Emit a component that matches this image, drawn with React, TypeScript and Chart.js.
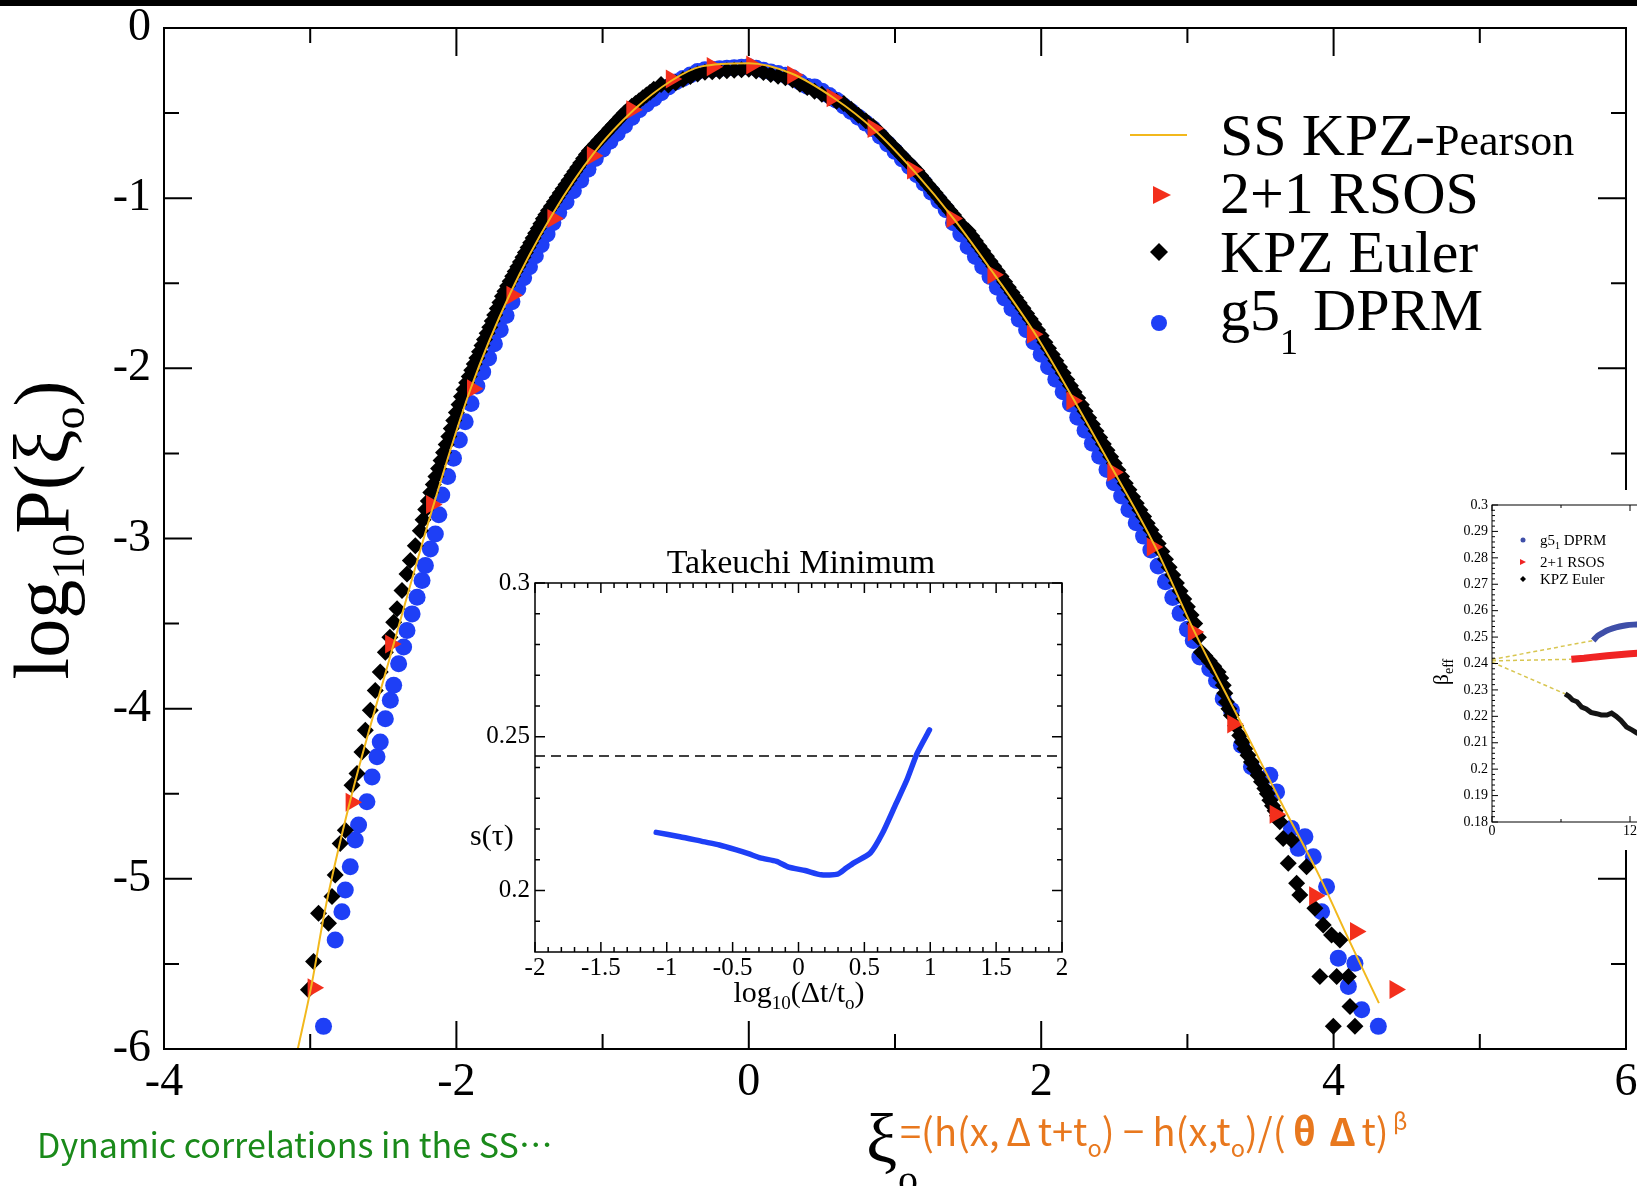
import React, { useEffect, useRef } from 'react';
import { Chart, registerables } from 'chart.js';

Chart.register(...registerables);

const SERIF = '"Liberation Serif", "Times New Roman", serif';
const CJK = '"Noto Sans CJK JP", "Noto Sans", sans-serif';

// ---------------- main chart data ----------------
const pearsonX = [-3.09, -2.99, -2.9, -2.726, -2.452, -2.144, -1.904, -1.63, -1.345, -1.06, -0.786, -0.53, -0.33, 0.0, 0.288, 0.584, 0.858, 1.132, 1.406, 1.68, 1.954, 2.228, 2.502, 2.776, 3.039, 3.37, 3.64, 3.9, 4.1, 4.31];
const pearsonY = [-6.02, -5.62, -5.19, -4.54, -3.69, -2.768, -2.123, -1.556, -1.097, -0.735, -0.481, -0.31, -0.227, -0.207, -0.266, -0.413, -0.598, -0.843, -1.126, -1.449, -1.791, -2.192, -2.612, -3.042, -3.531, -4.09, -4.55, -4.98, -5.35, -5.73];

const rsosX = [-2.98, -2.72, -2.45, -2.17, -1.89, -1.62, -1.34, -1.07, -0.8, -0.53, -0.25, 0.02, 0.3, 0.57, 0.85, 1.12, 1.39, 1.67, 1.94, 2.21, 2.49, 2.76, 3.04, 3.31, 3.6, 3.87, 4.15, 4.42];
const rsosY = [-5.64, -4.55, -3.62, -2.8, -2.12, -1.57, -1.12, -0.75, -0.48, -0.3, -0.227, -0.217, -0.276, -0.41, -0.59, -0.835, -1.12, -1.45, -1.8, -2.19, -2.61, -3.05, -3.55, -4.09, -4.62, -5.1, -5.31, -5.65];

const eulerPoints: [number, number][] = [
  [-3.012, -5.652], [-2.977, -5.486], [-2.943, -5.202], [-2.875, -5.261], [-2.851, -5.104], [-2.829, -4.978],
  [-2.795, -4.792], [-2.76, -4.714], [-2.714, -4.45], [-2.68, -4.381], [-2.646, -4.254], [-2.623, -4.127],
  [-2.589, -4.01], [-2.555, -3.893], [-2.521, -3.785], [-2.486, -3.668], [-2.455, -3.58], [-2.429, -3.492],
  [-2.406, -3.413], [-2.372, -3.306], [-2.338, -3.208], [-2.315, -3.13], [-2.281, -3.042], [-2.247, -2.954],
  [-2.228, -2.89], [-2.21, -2.83], [-2.192, -2.78], [-2.175, -2.73], [-2.158, -2.683], [-2.14, -2.636],
  [-2.122, -2.589], [-2.105, -2.542], [-2.088, -2.495], [-2.07, -2.448], [-2.052, -2.401], [-2.035, -2.354],
  [-2.018, -2.307], [-2.0, -2.26], [-1.982, -2.213], [-1.965, -2.166], [-1.948, -2.125], [-1.93, -2.084],
  [-1.912, -2.048], [-1.895, -2.011], [-1.878, -1.975], [-1.86, -1.939], [-1.842, -1.903], [-1.825, -1.866],
  [-1.808, -1.83], [-1.79, -1.794], [-1.772, -1.758], [-1.755, -1.722], [-1.738, -1.686], [-1.72, -1.649],
  [-1.702, -1.613], [-1.685, -1.577], [-1.668, -1.547], [-1.65, -1.516], [-1.632, -1.488], [-1.615, -1.459],
  [-1.598, -1.431], [-1.58, -1.403], [-1.562, -1.375], [-1.545, -1.347], [-1.528, -1.319], [-1.51, -1.29],
  [-1.492, -1.262], [-1.475, -1.234], [-1.458, -1.206], [-1.44, -1.178], [-1.422, -1.15], [-1.405, -1.121],
  [-1.388, -1.097], [-1.37, -1.072], [-1.35, -1.047], [-1.33, -1.021], [-1.31, -0.996], [-1.29, -0.97],
  [-1.27, -0.945], [-1.25, -0.919], [-1.23, -0.894], [-1.21, -0.868], [-1.19, -0.843], [-1.17, -0.818],
  [-1.15, -0.793], [-1.13, -0.767], [-1.11, -0.744], [-1.09, -0.721], [-1.07, -0.703], [-1.05, -0.684],
  [-1.025, -0.661], [-1.0, -0.638], [-0.975, -0.615], [-0.95, -0.591], [-0.925, -0.568], [-0.9, -0.545],
  [-0.875, -0.522], [-0.85, -0.499], [-0.825, -0.48], [-0.8, -0.46], [-0.775, -0.444], [-0.75, -0.427],
  [-0.725, -0.41], [-0.7, -0.394], [-0.675, -0.377], [-0.65, -0.36], [-0.6, -0.332],
  [-0.55, -0.335], [-0.5, -0.322], [-0.45, -0.302], [-0.4, -0.285], [-0.35, -0.27], [-0.3, -0.26],
  [-0.25, -0.257], [-0.2, -0.254], [-0.15, -0.251], [-0.1, -0.248], [-0.05, -0.245], [0.0, -0.243],
  [0.05, -0.252], [0.1, -0.262], [0.15, -0.273], [0.2, -0.283], [0.25, -0.293], [0.3, -0.306],
  [0.35, -0.33], [0.4, -0.35], [0.45, -0.372], [0.5, -0.39], [0.55, -0.41], [0.6, -0.43],
  [0.65, -0.444], [0.7, -0.478], [0.75, -0.512], [0.8, -0.545], [0.85, -0.579], [0.9, -0.618],
  [0.95, -0.662], [1.0, -0.707], [1.025, -0.73], [1.05, -0.752], [1.075, -0.775], [1.1, -0.797],
  [1.125, -0.819], [1.15, -0.841], [1.175, -0.867], [1.2, -0.893], [1.225, -0.919], [1.25, -0.944],
  [1.275, -0.97], [1.3, -0.996], [1.325, -1.022], [1.35, -1.048], [1.375, -1.074], [1.4, -1.099],
  [1.425, -1.127], [1.45, -1.154], [1.475, -1.175], [1.5, -1.193], [1.525, -1.223], [1.55, -1.252],
  [1.575, -1.282], [1.6, -1.311], [1.625, -1.341], [1.65, -1.37], [1.675, -1.4], [1.7, -1.429],
  [1.725, -1.46], [1.75, -1.491], [1.775, -1.523], [1.8, -1.554], [1.825, -1.585], [1.85, -1.616],
  [1.875, -1.647], [1.9, -1.678], [1.925, -1.71], [1.95, -1.741], [1.975, -1.775], [2.0, -1.809],
  [2.025, -1.846], [2.05, -1.882], [2.075, -1.919], [2.1, -1.955], [2.125, -1.992], [2.15, -2.028],
  [2.175, -2.065], [2.2, -2.102], [2.225, -2.139], [2.25, -2.175], [2.275, -2.214], [2.3, -2.252],
  [2.325, -2.291], [2.35, -2.329], [2.375, -2.368], [2.4, -2.406], [2.425, -2.444], [2.45, -2.482],
  [2.475, -2.52], [2.5, -2.558], [2.525, -2.597], [2.55, -2.636], [2.575, -2.675], [2.6, -2.714],
  [2.625, -2.754], [2.65, -2.793], [2.675, -2.832], [2.7, -2.871], [2.725, -2.911], [2.75, -2.95],
  [2.775, -2.99], [2.8, -3.029], [2.825, -3.076], [2.85, -3.122], [2.875, -3.169], [2.9, -3.215],
  [2.925, -3.262], [2.95, -3.308], [2.975, -3.355], [3.0, -3.401], [3.025, -3.45], [3.05, -3.5],
  [3.075, -3.58], [3.096, -3.668], [3.12, -3.69], [3.15, -3.72], [3.18, -3.75], [3.21, -3.785],
  [3.228, -3.82], [3.245, -3.863], [3.256, -3.91], [3.267, -3.961], [3.284, -4.0], [3.301, -4.039],
  [3.33, -4.1], [3.358, -4.157], [3.375, -4.196], [3.393, -4.235], [3.415, -4.274], [3.438, -4.313],
  [3.46, -4.352], [3.484, -4.391], [3.507, -4.43], [3.53, -4.469], [3.547, -4.5], [3.564, -4.538],
  [3.582, -4.57], [3.6, -4.6], [3.616, -4.63], [3.632, -4.665], [3.655, -4.763], [3.69, -4.909],
  [3.712, -4.772], [3.747, -5.026], [3.769, -5.095], [3.815, -4.929], [3.872, -5.173], [3.906, -5.574],
  [3.929, -5.271], [3.986, -5.33], [3.998, -5.867], [4.021, -5.574], [4.043, -5.359], [4.101, -5.574],
  [4.112, -5.75], [4.146, -5.867],
];

const dprmPoints: [number, number][] = [
  [-2.909, -5.867], [-2.829, -5.359], [-2.783, -5.193], [-2.76, -5.066], [-2.726, -4.929], [-2.692, -4.772],
  [-2.669, -4.684], [-2.612, -4.547], [-2.577, -4.401], [-2.543, -4.283], [-2.521, -4.196], [-2.486, -4.059],
  [-2.452, -3.951], [-2.429, -3.863], [-2.395, -3.736], [-2.361, -3.638], [-2.338, -3.541], [-2.303, -3.443],
  [-2.269, -3.345], [-2.235, -3.247], [-2.212, -3.159], [-2.178, -3.062], [-2.144, -2.974], [-2.12, -2.86],
  [-2.1, -2.744], [-2.06, -2.636], [-2.02, -2.529], [-1.98, -2.421], [-1.94, -2.314], [-1.9, -2.206],
  [-1.86, -2.104], [-1.82, -2.022], [-1.78, -1.939], [-1.74, -1.856], [-1.7, -1.773], [-1.66, -1.69],
  [-1.62, -1.608], [-1.58, -1.532], [-1.54, -1.467], [-1.5, -1.403], [-1.46, -1.338], [-1.42, -1.274],
  [-1.38, -1.21], [-1.34, -1.145], [-1.3, -1.084], [-1.25, -1.021], [-1.2, -0.957], [-1.15, -0.894],
  [-1.1, -0.83], [-1.05, -0.767], [-1.0, -0.712], [-0.95, -0.665], [-0.9, -0.619], [-0.85, -0.573],
  [-0.8, -0.526], [-0.75, -0.481], [-0.7, -0.447], [-0.65, -0.414], [-0.6, -0.38], [-0.55, -0.347],
  [-0.5, -0.318], [-0.45, -0.297], [-0.4, -0.276], [-0.35, -0.255], [-0.3, -0.245], [-0.25, -0.242],
  [-0.2, -0.239], [-0.15, -0.236], [-0.1, -0.233], [-0.05, -0.23], [0.0, -0.227], [0.05, -0.237],
  [0.1, -0.248], [0.15, -0.258], [0.2, -0.268], [0.25, -0.278], [0.3, -0.292], [0.35, -0.317],
  [0.4, -0.342], [0.45, -0.346], [0.5, -0.371], [0.55, -0.396], [0.6, -0.424], [0.65, -0.458],
  [0.7, -0.491], [0.75, -0.525], [0.8, -0.559], [0.85, -0.592], [0.9, -0.636], [0.95, -0.681],
  [1.0, -0.725], [1.05, -0.77], [1.1, -0.814], [1.15, -0.862], [1.2, -0.913], [1.25, -0.965],
  [1.3, -1.017], [1.35, -1.068], [1.4, -1.145], [1.45, -1.21], [1.5, -1.284], [1.55, -1.343],
  [1.6, -1.402], [1.65, -1.461], [1.7, -1.524], [1.75, -1.586], [1.8, -1.649], [1.85, -1.711],
  [1.9, -1.773], [1.95, -1.844], [2.0, -1.917], [2.05, -1.99], [2.1, -2.064], [2.15, -2.137],
  [2.2, -2.21], [2.25, -2.287], [2.3, -2.364], [2.35, -2.44], [2.4, -2.517], [2.45, -2.594],
  [2.5, -2.672], [2.55, -2.75], [2.6, -2.829], [2.65, -2.907], [2.7, -2.986], [2.75, -3.068],
  [2.8, -3.161], [2.85, -3.254], [2.9, -3.347], [2.95, -3.44], [3.0, -3.533], [3.04, -3.6],
  [3.085, -3.697], [3.153, -3.765], [3.199, -3.834], [3.245, -3.941], [3.301, -4.01], [3.37, -4.215],
  [3.438, -4.342], [3.564, -4.391], [3.61, -4.489], [3.712, -4.704], [3.758, -4.821], [3.804, -4.753],
  [3.861, -4.87], [3.918, -5.193], [3.952, -5.046], [4.032, -5.466], [4.101, -5.632], [4.146, -5.496],
  [4.192, -5.77], [4.306, -5.867],
];

const mainXTicks = [-4, -2, 0, 2, 4, 6];
const mainXLabels = ['-4', '-2', '0', '2', '4', '6'];
const mainXMinor = [-3, -1, 1, 3, 5];
const mainYTicks = [-6, -5, -4, -3, -2, -1, 0];
const mainYLabels = ['-6', '-5', '-4', '-3', '-2', '-1', '0'];
const mainYMinor = [-5.5, -4.5, -3.5, -2.5, -1.5, -0.5];

// ---------------- inset 1 (Takeuchi Minimum) ----------------
const tauLog = [-1.08, -0.9, -0.725, -0.6, -0.477, -0.38, -0.29, -0.167, -0.074, 0.05, 0.173, 0.297, 0.36, 0.42, 0.545, 0.638, 0.73, 0.823, 0.9, 0.994];
const tauS = [0.2189, 0.2175, 0.2159, 0.2148, 0.2133, 0.212, 0.2106, 0.2095, 0.2076, 0.2065, 0.2051, 0.2053, 0.2072, 0.209, 0.2122, 0.2187, 0.2273, 0.236, 0.2446, 0.2522];
const refLogX = [-2, 2];
const refS = [0.2437, 0.2437];
const in1XTicks = [-2, -1.5, -1, -0.5, 0, 0.5, 1, 1.5, 2];
const in1XLabels = ['-2', '-1.5', '-1', '-0.5', '0', '0.5', '1', '1.5', '2'];
const in1XMinor = [-1.9, -1.8, -1.7, -1.6, -1.4, -1.3, -1.2, -1.1, -0.9, -0.8, -0.7, -0.6, -0.4, -0.3, -0.2, -0.1, 0.1, 0.2, 0.3, 0.4, 0.6, 0.7, 0.8, 0.9, 1.1, 1.2, 1.3, 1.4, 1.6, 1.7, 1.8, 1.9];
const in1YTicks = [0.2, 0.25, 0.3];
const in1YLabels = ['0.2', '0.25', '0.3'];
const in1YMinor = [0.19, 0.21, 0.22, 0.23, 0.24, 0.26, 0.27, 0.28, 0.29];

// ---------------- inset 2 (beta_eff, cropped) ----------------
const dprmT = [8.8, 9.2, 9.6, 10.0, 10.5, 11.1, 11.7, 12.6, 13.5];
const dprmBeta = [0.2487, 0.2505, 0.2515, 0.2525, 0.2533, 0.254, 0.2545, 0.2548, 0.2551];
const rsosT = [6.9, 8, 9, 10, 11, 12, 13];
const rsosBeta = [0.2416, 0.242, 0.2425, 0.2429, 0.2433, 0.2437, 0.244];
const eulerT = [6.36, 6.7, 7.0, 7.4, 7.8, 8.2, 8.6, 9.1, 9.5, 10.0, 10.4, 10.8, 11.2, 11.7, 12.2, 12.6, 13.2];
const eulerBeta = [0.2285, 0.2275, 0.2262, 0.2255, 0.2235, 0.2228, 0.2215, 0.221, 0.2205, 0.2205, 0.2212, 0.22, 0.2185, 0.216, 0.2148, 0.2137, 0.2125];
const extrapDprmT = [0, 8.8];
const extrapDprmB = [0.2415, 0.2487];
const extrapRsosT = [0, 6.9];
const extrapRsosB = [0.241, 0.2416];
const extrapEulerT = [0, 6.36];
const extrapEulerB = [0.2405, 0.2285];
const in2YTicks = [0.18, 0.19, 0.2, 0.21, 0.22, 0.23, 0.24, 0.25, 0.26, 0.27, 0.28, 0.29, 0.3];
const in2YLabels = ['0.18', '0.19', '0.2', '0.21', '0.22', '0.23', '0.24', '0.25', '0.26', '0.27', '0.28', '0.29', '0.3'];
const in2XTicks = [0, 12, 24];
const in2XLabels = ['0', '12', '24'];
const in2XMinor = [6, 18, 30];

const YELLOW = '#f2b81c';
const RED = '#f32f1c';
const BLUE = '#1e3ff6';

type Part = { t: string; size: number; dy?: number; bold?: boolean; color?: string };

function drawRich(ctx: CanvasRenderingContext2D, x: number, y: number, parts: Part[], align: 'left' | 'center' | 'right', family = SERIF) {
  let w = 0;
  for (const p of parts) {
    ctx.font = `${p.bold ? 'bold ' : ''}${p.size}px ${family}`;
    w += ctx.measureText(p.t).width;
  }
  let cx = align === 'left' ? x : align === 'center' ? x - w / 2 : x - w;
  ctx.textAlign = 'left';
  ctx.textBaseline = 'alphabetic';
  for (const p of parts) {
    ctx.font = `${p.bold ? 'bold ' : ''}${p.size}px ${family}`;
    ctx.fillStyle = p.color || '#000';
    ctx.fillText(p.t, cx, y + (p.dy || 0));
    cx += ctx.measureText(p.t).width;
  }
}

function frameTicks(id: string, cfg: { xMajor: number[]; xMinor: number[]; yMajor: number[]; yMinor: number[]; major: number; minor: number; lw: number }) {
  return {
    id,
    afterDraw(chart: any) {
      const { ctx, chartArea: a } = chart;
      const xs = chart.scales.x;
      const ys = chart.scales.y;
      ctx.save();
      ctx.strokeStyle = '#000';
      ctx.lineWidth = cfg.lw;
      ctx.beginPath();
      const vx = (v: number, len: number) => {
        const p = xs.getPixelForValue(v);
        if (p < a.left - 0.5 || p > a.right + 0.5) return;
        ctx.moveTo(p, a.bottom); ctx.lineTo(p, a.bottom - len);
        ctx.moveTo(p, a.top); ctx.lineTo(p, a.top + len);
      };
      const hy = (v: number, len: number) => {
        const p = ys.getPixelForValue(v);
        if (p < a.top - 0.5 || p > a.bottom + 0.5) return;
        ctx.moveTo(a.left, p); ctx.lineTo(a.left + len, p);
        ctx.moveTo(a.right, p); ctx.lineTo(a.right - len, p);
      };
      cfg.xMajor.forEach((v) => vx(v, cfg.major));
      cfg.xMinor.forEach((v) => vx(v, cfg.minor));
      cfg.yMajor.forEach((v) => hy(v, cfg.major));
      cfg.yMinor.forEach((v) => hy(v, cfg.minor));
      ctx.stroke();
      ctx.strokeRect(a.left, a.top, a.right - a.left, a.bottom - a.top);
      ctx.restore();
    },
  };
}

function fixedAxis(kind: 'x' | 'y', size: number) {
  return (s: any) => {
    if (kind === 'x') s.height = size; else s.width = size;
    s.paddingLeft = 0; s.paddingRight = 0; s.paddingTop = 0; s.paddingBottom = 0;
  };
}

const pts = (xs: number[], ys: number[]) => xs.map((x, i) => ({ x, y: ys[i] }));
const pairPts = (p: [number, number][]) => p.map(([x, y]) => ({ x, y }));

function makeMain(canvas: HTMLCanvasElement) {
  const decor = {
    id: 'mainDecor',
    afterDraw(chart: any) {
      const ctx: CanvasRenderingContext2D = chart.ctx;
      ctx.save();
      ctx.translate(68, 530);
      ctx.rotate(-Math.PI / 2);
      drawRich(ctx, 0, 0, [
        { t: 'log', size: 78 }, { t: '10', size: 46, dy: 16 }, { t: 'P(ξ', size: 78 }, { t: 'o', size: 46, dy: 16 }, { t: ')', size: 78 },
      ], 'center');
      ctx.restore();

      ctx.save();
      ctx.strokeStyle = YELLOW; ctx.lineWidth = 2;
      ctx.beginPath(); ctx.moveTo(1130, 135); ctx.lineTo(1187, 135); ctx.stroke();
      drawRich(ctx, 1220, 155, [{ t: 'SS KPZ-', size: 60 }, { t: 'Pearson', size: 44 }], 'left');

      ctx.fillStyle = RED;
      ctx.beginPath(); ctx.moveTo(1171, 195); ctx.lineTo(1153, 186); ctx.lineTo(1153, 204); ctx.closePath(); ctx.fill();
      drawRich(ctx, 1220, 213, [{ t: '2+1 RSOS', size: 60 }], 'left');

      ctx.fillStyle = '#000';
      ctx.beginPath(); ctx.moveTo(1159, 243); ctx.lineTo(1168, 252); ctx.lineTo(1159, 261); ctx.lineTo(1150, 252); ctx.closePath(); ctx.fill();
      drawRich(ctx, 1220, 272, [{ t: 'KPZ Euler', size: 60 }], 'left');

      ctx.fillStyle = BLUE;
      ctx.beginPath(); ctx.arc(1159, 323, 8, 0, Math.PI * 2); ctx.fill();
      drawRich(ctx, 1220, 330, [{ t: 'g5', size: 60 }, { t: '1', size: 36, dy: 24 }, { t: ' DPRM', size: 60 }], 'left');
      ctx.restore();
    },
  };
  return new Chart(canvas, {
    type: 'scatter',
    data: {
      datasets: [
        { label: 'SS KPZ-Pearson', data: pts(pearsonX, pearsonY), showLine: true, borderColor: YELLOW, borderWidth: 2, pointRadius: 0, cubicInterpolationMode: 'monotone', fill: false } as any,
        { label: '2+1 RSOS', data: pts(rsosX, rsosY), pointStyle: 'triangle', pointRotation: 90, pointRadius: 11, pointBackgroundColor: RED, pointBorderWidth: 0 } as any,
        { label: 'KPZ Euler', data: pairPts(eulerPoints), pointStyle: 'rectRot', pointRadius: 8.5, pointBackgroundColor: '#000', pointBorderWidth: 0 } as any,
        { label: 'g5_1 DPRM', data: pairPts(dprmPoints), pointStyle: 'circle', pointRadius: 8.5, pointBackgroundColor: BLUE, pointBorderWidth: 0 } as any,
      ],
    },
    options: {
      animation: false,
      responsive: false,
      devicePixelRatio: 1,
      events: [],
      layout: { padding: { top: 28, right: 9, left: 0, bottom: 0 } },
      plugins: { legend: { display: false }, tooltip: { enabled: false }, title: { display: false } },
      scales: {
        x: {
          type: 'linear', min: -4, max: 6,
          afterBuildTicks: (s: any) => { s.ticks = mainXTicks.map((v) => ({ value: v })); },
          afterFit: fixedAxis('x', 137),
          ticks: { autoSkip: false, maxRotation: 0, font: { family: SERIF, size: 46 }, color: '#000', padding: 6, callback: (_v: any, i: number) => mainXLabels[i] },
          grid: { display: false, drawTicks: false },
          border: { display: false },
        },
        y: {
          type: 'linear', min: -6, max: 0,
          afterBuildTicks: (s: any) => { s.ticks = mainYTicks.map((v) => ({ value: v })); },
          afterFit: fixedAxis('y', 164),
          ticks: { autoSkip: false, font: { family: SERIF, size: 46 }, color: '#000', padding: 13, callback: (_v: any, i: number) => mainYLabels[i] },
          grid: { display: false, drawTicks: false },
          border: { display: false },
        },
      },
    } as any,
    plugins: [frameTicks('mainTicks', { xMajor: mainXTicks, xMinor: mainXMinor, yMajor: mainYTicks, yMinor: mainYMinor, major: 28, minor: 15, lw: 2 }), decor],
  });
}

function makeInset1(canvas: HTMLCanvasElement) {
  const decor = {
    id: 'in1Decor',
    afterDraw(chart: any) {
      const ctx: CanvasRenderingContext2D = chart.ctx;
      ctx.save();
      drawRich(ctx, 361, 48, [{ t: 'Takeuchi Minimum', size: 34 }], 'center');
      drawRich(ctx, 359, 477, [{ t: 'log', size: 30 }, { t: '10', size: 19, dy: 7 }, { t: '(Δt/t', size: 30 }, { t: 'o', size: 19, dy: 7 }, { t: ')', size: 30 }], 'center');
      drawRich(ctx, 30, 320, [{ t: 's(τ)', size: 30 }], 'left');
      ctx.restore();
    },
  };
  return new Chart(canvas, {
    type: 'scatter',
    data: {
      datasets: [
        { label: 's(tau)', data: pts(tauLog, tauS), showLine: true, borderColor: BLUE, borderWidth: 5.5, pointRadius: 0, tension: 0.2, borderCapStyle: 'round', borderJoinStyle: 'round' } as any,
        { label: 'reference', data: pts(refLogX, refS), showLine: true, borderColor: '#000', borderWidth: 1.5, borderDash: [10, 6], pointRadius: 0 } as any,
      ],
    },
    options: {
      animation: false,
      responsive: false,
      devicePixelRatio: 1,
      events: [],
      layout: { padding: { top: 58, right: 18, left: 0, bottom: 0 } },
      plugins: { legend: { display: false }, tooltip: { enabled: false } },
      scales: {
        x: {
          type: 'linear', min: -2, max: 2,
          afterBuildTicks: (s: any) => { s.ticks = in1XTicks.map((v) => ({ value: v })); },
          afterFit: fixedAxis('x', 63),
          ticks: { autoSkip: false, maxRotation: 0, font: { family: SERIF, size: 25 }, color: '#000', padding: 1, callback: (_v: any, i: number) => in1XLabels[i] },
          grid: { display: false, drawTicks: false },
          border: { display: false },
        },
        y: {
          type: 'linear', min: 0.18, max: 0.3,
          afterBuildTicks: (s: any) => { s.ticks = in1YTicks.map((v) => ({ value: v })); },
          afterFit: fixedAxis('y', 95),
          ticks: { autoSkip: false, font: { family: SERIF, size: 25 }, color: '#000', padding: 5, callback: (_v: any, i: number) => in1YLabels[i] },
          grid: { display: false, drawTicks: false },
          border: { display: false },
        },
      },
    } as any,
    plugins: [frameTicks('in1Ticks', { xMajor: in1XTicks, xMinor: in1XMinor, yMajor: in1YTicks, yMinor: in1YMinor, major: 10, minor: 5, lw: 1.5 }), decor],
  });
}

function makeInset2(canvas: HTMLCanvasElement) {
  const minorY: number[] = [];
  for (const t of in2YTicks) for (const d of [0.002, 0.004, 0.006, 0.008]) if (t + d < 0.3) minorY.push(+(t + d).toFixed(3));
  const decor = {
    id: 'in2Decor',
    afterDraw(chart: any) {
      const ctx: CanvasRenderingContext2D = chart.ctx;
      ctx.save();
      ctx.fillStyle = '#3f4fa8';
      ctx.beginPath(); ctx.arc(103, 50, 2.5, 0, Math.PI * 2); ctx.fill();
      drawRich(ctx, 120, 55, [{ t: 'g5', size: 15 }, { t: '1', size: 10, dy: 4 }, { t: ' DPRM', size: 15 }], 'left');
      ctx.fillStyle = '#f02424';
      ctx.beginPath(); ctx.moveTo(106, 72); ctx.lineTo(100, 69); ctx.lineTo(100, 75); ctx.closePath(); ctx.fill();
      drawRich(ctx, 120, 77, [{ t: '2+1 RSOS', size: 15 }], 'left');
      ctx.fillStyle = '#000';
      ctx.beginPath(); ctx.moveTo(103, 86); ctx.lineTo(106, 89); ctx.lineTo(103, 92); ctx.lineTo(100, 89); ctx.closePath(); ctx.fill();
      drawRich(ctx, 120, 94, [{ t: 'KPZ Euler', size: 15 }], 'left');
      ctx.translate(28, 182);
      ctx.rotate(-Math.PI / 2);
      drawRich(ctx, 0, 0, [{ t: 'β', size: 22 }, { t: 'eff', size: 14, dy: 5 }], 'center');
      ctx.restore();
    },
  };
  const dashed = { showLine: true, borderColor: '#d8c650', borderWidth: 1.5, borderDash: [4, 3], pointRadius: 0 };
  return new Chart(canvas, {
    type: 'scatter',
    data: {
      datasets: [
        { label: 'g5_1 DPRM', data: pts(dprmT, dprmBeta), showLine: true, borderColor: '#3f4fa8', borderWidth: 6, pointRadius: 0, tension: 0.3 } as any,
        { label: '2+1 RSOS', data: pts(rsosT, rsosBeta), showLine: true, borderColor: '#f02424', borderWidth: 7, pointRadius: 0 } as any,
        { label: 'KPZ Euler', data: pts(eulerT, eulerBeta), showLine: true, borderColor: '#141414', borderWidth: 5, pointRadius: 0 } as any,
        { label: 'fit DPRM', data: pts(extrapDprmT, extrapDprmB), ...dashed } as any,
        { label: 'fit RSOS', data: pts(extrapRsosT, extrapRsosB), ...dashed } as any,
        { label: 'fit Euler', data: pts(extrapEulerT, extrapEulerB), ...dashed } as any,
      ],
    },
    options: {
      animation: false,
      responsive: false,
      devicePixelRatio: 1,
      events: [],
      layout: { padding: { top: 15, right: 13, left: 0, bottom: 0 } },
      plugins: { legend: { display: false }, tooltip: { enabled: false } },
      scales: {
        x: {
          type: 'linear', min: 0, max: 30,
          afterBuildTicks: (s: any) => { s.ticks = in2XTicks.map((v) => ({ value: v })); },
          afterFit: fixedAxis('x', 28),
          ticks: { autoSkip: false, maxRotation: 0, font: { family: SERIF, size: 14 }, color: '#000', padding: 1, callback: (_v: any, i: number) => in2XLabels[i] },
          grid: { display: false, drawTicks: false },
          border: { display: false },
        },
        y: {
          type: 'linear', min: 0.18, max: 0.3,
          afterBuildTicks: (s: any) => { s.ticks = in2YTicks.map((v) => ({ value: v })); },
          afterFit: fixedAxis('y', 72),
          ticks: { autoSkip: false, font: { family: SERIF, size: 14 }, color: '#000', padding: 4, callback: (_v: any, i: number) => in2YLabels[i] },
          grid: { display: false, drawTicks: false },
          border: { display: false },
        },
      },
    } as any,
    plugins: [frameTicks('in2Ticks', { xMajor: in2XTicks, xMinor: in2XMinor, yMajor: in2YTicks, yMinor: minorY, major: 6, minor: 3, lw: 1 }), decor],
  });
}

export default function App() {
  const mainRef = useRef<HTMLCanvasElement>(null);
  const in1Ref = useRef<HTMLCanvasElement>(null);
  const in2Ref = useRef<HTMLCanvasElement>(null);

  useEffect(() => {
    const charts = [makeMain(mainRef.current!), makeInset1(in1Ref.current!), makeInset2(in2Ref.current!)];
    return () => charts.forEach((c) => c.destroy());
  }, []);

  const abs = (l: number, t: number, w: number, h: number): React.CSSProperties => ({ position: 'absolute', left: l, top: t, width: w, height: h, display: 'block' });
  const sub: React.CSSProperties = { fontSize: '62%', position: 'relative', top: '0.45em' };
  const fw: React.CSSProperties = { fontFeatureSettings: '"fwid" 1' };
  const full: React.CSSProperties = { display: 'inline-block', width: '1em', textAlign: 'center' };

  return (
    <div lang="ja" style={{ position: 'fixed', left: 0, top: 0, width: 1637, height: 1186, overflow: 'hidden', background: '#fff' }}>
      <canvas ref={mainRef} width={1637} height={1186} style={abs(0, 0, 1637, 1186)} />
      <canvas ref={in1Ref} width={640} height={490} style={abs(440, 525, 640, 490)} />
      <canvas ref={in2Ref} width={430} height={360} style={{ ...abs(1420, 490, 430, 360), background: '#fff' }} />
      <div style={{ position: 'absolute', left: 0, top: 0, width: 1637, height: 6, background: '#000' }} />
      <div style={{ position: 'absolute', left: 37, top: 1127, fontFamily: CJK, fontSize: 34, lineHeight: '34px', color: '#1a8a1a', whiteSpace: 'nowrap' }}>
        Dynamic correlations in the SS<span style={fw}>…</span>
      </div>
      <div style={{ position: 'absolute', left: 866, top: 1104, fontFamily: SERIF, fontSize: 70, lineHeight: '70px', color: '#000', whiteSpace: 'nowrap' }}>ξ</div>
      <div style={{ position: 'absolute', left: 898, top: 1160, fontFamily: SERIF, fontSize: 40, lineHeight: '40px', color: '#000', whiteSpace: 'nowrap' }}>o</div>
      <div style={{ position: 'absolute', left: 900, top: 1111, fontFamily: CJK, fontSize: 38, lineHeight: '38px', color: '#e8781e', whiteSpace: 'nowrap' }}>
        =(h(x,<span style={full}>Δ</span>t+t<span style={sub}>o</span>)<span style={full}>−</span>h(x,t<span style={sub}>o</span>)/(<b><span style={full}>θ</span><span style={full}>Δ</span></b>t)<span style={{ fontSize: '60%', position: 'relative', top: '-0.7em' }}><span style={full}>β</span></span>
      </div>
    </div>
  );
}
